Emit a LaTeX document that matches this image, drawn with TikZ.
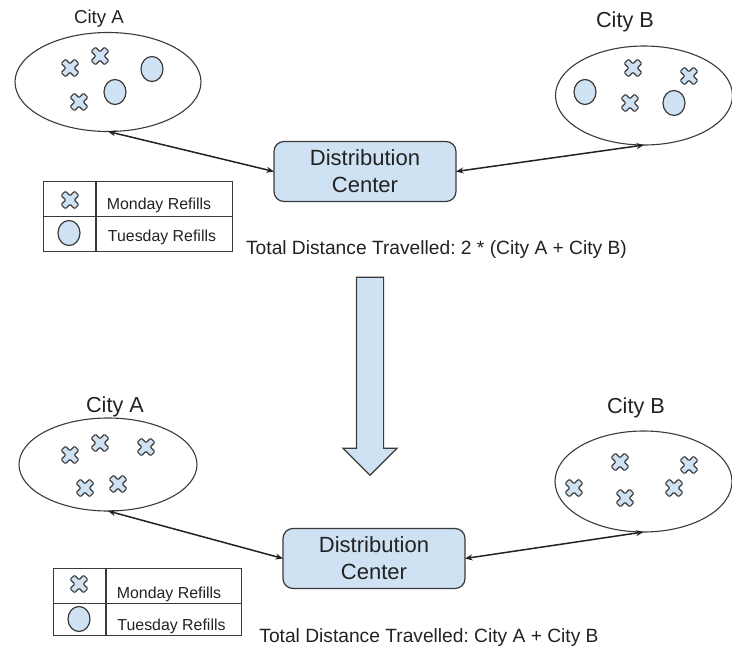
\documentclass[tikz,border=0pt]{standalone}
\usepackage{fontspec}
\setmainfont{Liberation Sans}
\usetikzlibrary{positioning,arrows.meta,shapes.geometric,shapes.arrows}
\definecolor{refillblue}{HTML}{CFE2F3}
\definecolor{inkgrey}{HTML}{3A3A3A}
\definecolor{textgrey}{HTML}{222222}
\frenchspacing
\tikzset{
  city/.style={draw=inkgrey, ellipse, line width=1.1pt, inner sep=0pt, outer sep=0pt},
  cityname/.style={text=textgrey, font=\fontsize{21.7}{24}\selectfont},
  center/.style={draw=inkgrey, fill=refillblue, rounded corners=10pt, line width=1.2pt,
    text=textgrey, minimum width=182pt, minimum height=60pt, align=center, outer sep=0pt,
    font=\fontsize{22}{27}\selectfont},
  tuesday/.style={draw=inkgrey, fill=refillblue, ellipse, line width=1.2pt, inner sep=0pt,
    minimum width=22pt, minimum height=25pt},
  cell/.style={draw=inkgrey, line width=1pt, inner sep=0pt, outer sep=0pt},
  refills/.style={text=textgrey, font=\fontsize{15.9}{18}\selectfont},
  total/.style={text=textgrey, font=\fontsize{19.2}{22}\selectfont},
  route/.style={<->, >={Stealth[length=7.5pt, width=6pt]}, line width=1.5pt, draw=textgrey},
  monday/.pic={
    \draw[draw=inkgrey, fill=refillblue, line width=1.1pt, rounded corners=1pt, rotate=45]
      (3,3) -- (9.5,3) -- (9.5,-3) -- (3,-3) -- (3,-9.5) -- (-3,-9.5) -- (-3,-3) -- (-9.5,-3)
      -- (-9.5,3) -- (-3,3) -- (-3,9.5) -- (3,9.5) -- cycle;
  }
}
\begin{document}
\begin{tikzpicture}[x=1pt, y=-1pt]
  \useasboundingbox (0,0) rectangle (732,648);

  % before
  \node[city, minimum width=186pt, minimum height=99pt] (cityA) at (108,82) {};
  \node[city, minimum width=177pt, minimum height=99pt] (cityB) at (644,95.5) {};
  \node[cityname, font=\fontsize{18.7}{22}\selectfont] (nameA) at (99,18.5) {City A};
  \node[cityname] (nameB) at (625,22) {City B};
  \node[center] (hub) at (365,171.5) {Distribution\\Center};
  \draw[route] (cityA.south) -- (hub.west);
  \draw[route] (hub.east) -- (cityB.south);

  \pic at (70,68) {monday};
  \pic at (100,56) {monday};
  \pic at (79,102) {monday};
  \node[tuesday] (tueA) at (152,69) {};
  \node[tuesday] (tueB) at (115,92) {};
  \pic at (633,68) {monday};
  \pic at (689,76) {monday};
  \pic at (630,103) {monday};
  \node[tuesday] (tueC) at (585,92) {};
  \node[tuesday] (tueD) at (674,103) {};

  % legend
  \node[cell, minimum width=53pt, minimum height=35pt] (keyA) at (69.5,198.5) {};
  \node[cell, minimum width=136pt, minimum height=35pt, right=0pt of keyA] (keyB) {};
  \node[cell, minimum width=53pt, minimum height=35pt, below=0pt of keyA] (keyC) {};
  \node[cell, minimum width=136pt, minimum height=35pt, right=0pt of keyC] (keyD) {};
  \draw[inkgrey, line width=1.6pt] (keyA.north east) -- (keyC.south east);
  \pic at (70,200) {monday};
  \node[tuesday] (keyTue) at (69,233) {};
  \node[refills] (monText) at (159,205.5) {Monday Refills};
  \node[refills] (tueText) at (162,237) {Tuesday Refills};
  \node[total] (sumA) at (436.5,250) {Total Distance Travelled: 2 * (City A + City B)};

  \node[draw=inkgrey, fill=refillblue, line width=1.2pt, single arrow, shape border rotate=270,
    single arrow head extend=13.5pt, single arrow tip angle=90, inner xsep=13pt, inner ysep=0pt,
    outer sep=0pt, minimum height=198pt] (shift) at (370,369.5) {};

  % after
  \node[city, minimum width=178pt, minimum height=93pt] (afterA) at (108,464.5) {};
  \node[city, minimum width=177pt, minimum height=101pt] (afterB) at (643.5,481.5) {};
  \node[cityname] (nameC) at (115,407) {City A};
  \node[cityname] (nameD) at (636,408) {City B};
  \node[center] (afterhub) at (374,558.5) {Distribution\\Center};
  \draw[route] (afterA.south) -- (afterhub.west);
  \draw[route] (afterhub.east) -- (afterB.south);

  \foreach \px/\py in {70/455, 100/443, 146/447, 85/488, 118/484,
                       620/462, 689/465, 574/488, 625/498, 674/488}
    \pic at (\px,\py) {monday};

  % legend
  \node[cell, minimum width=53pt, minimum height=35pt] (lastA) at (79.5,586) {};
  \node[cell, minimum width=135pt, minimum height=35pt, right=0pt of lastA] (lastB) {};
  \node[cell, minimum width=53pt, minimum height=32pt, below=0pt of lastA] (lastC) {};
  \node[cell, minimum width=135pt, minimum height=32pt, right=0pt of lastC] (lastD) {};
  \draw[inkgrey, line width=1.6pt] (lastA.north east) -- (lastC.south east);
  \pic at (79,584) {monday};
  \node[tuesday] (lastTue) at (79,619) {};
  \node[refills] (lastMon) at (169,594) {Monday Refills};
  \node[refills] (lastTueText) at (171.5,626) {Tuesday Refills};
  \node[total] (sumB) at (429,638) {Total Distance Travelled: City A + City B};
\end{tikzpicture}
\end{document}
